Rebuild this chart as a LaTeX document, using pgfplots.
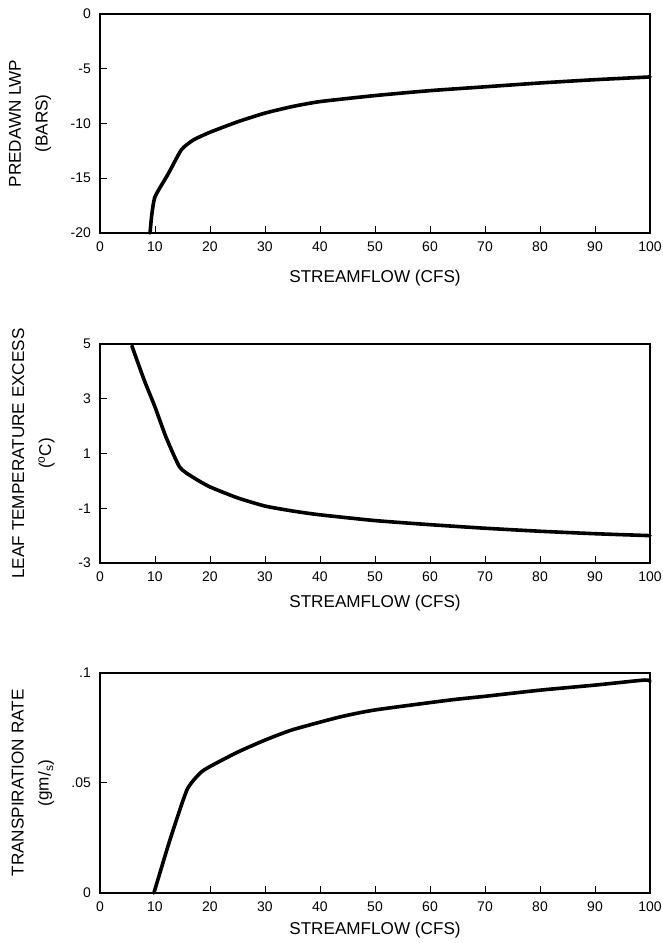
\documentclass[border=0pt]{standalone}
\usepackage{fontspec}
\setmainfont{Liberation Sans}
\usepackage{pgfplots}
\pgfplotsset{compat=1.18}
\begin{document}
\begin{tikzpicture}
\useasboundingbox (0bp,0bp) rectangle (663bp,943bp);
\pgfplotsset{
  myax/.style={
    scale only axis, width=550bp, anchor=south west,
    xmin=0, xmax=100, xtick={0,10,...,100},
    xticklabels={0,10,20,30,40,50,60,70,80,90,100},
    tick align=inside, tick pos=left, major tick length=7bp,
    axis line style={line width=1.2bp},
    every tick/.style={black, line width=1bp},
    clip=false,
    ticklabel style={font=\fontsize{14}{16}\selectfont},
    xticklabel style={anchor=north, inner sep=0pt, yshift=-9bp},
    yticklabel style={anchor=east, inner sep=0pt, xshift=-9bp},
    label style={font=\fontsize{17.2}{27}\selectfont},
    xlabel={STREAMFLOW (CFS)},
    ylabel style={align=center, anchor=center, rotate=0},
  },
  curve/.style={black, line width=3.6bp, line join=round, line cap=round, smooth, tension=0.35}
}
% Panel 1
\begin{axis}[myax, at={(100bp,710bp)}, height=219bp,
  ymin=-20, ymax=0, ytick={-20,-15,-10,-5,0},
  yticklabels={-20,-15,-10,-5,0},
  xlabel style={at={(axis description cs:0.5,-0.205)}, anchor=center},
  ylabel style={at={(axis description cs:-0.127,0.5)}},
  ylabel={PREDAWN LWP\\(BARS)}]
\addplot[curve] coordinates {
(9.1,-20) (9.4,-18.4) (10,-16.7) (12.4,-14.6) (14.8,-12.4) (17,-11.5) (20,-10.8)
(25,-9.85) (30,-9.05) (35,-8.45) (40,-8.0) (50,-7.45) (60,-7.0) (70,-6.65)
(80,-6.3) (90,-6.0) (100,-5.75)};
\end{axis}
% Panel 2
\begin{axis}[myax, at={(100bp,380bp)}, height=219bp,
  ymin=-3, ymax=5, ytick={-3,-1,1,3,5},
  yticklabels={-3,-1,1,3,5},
  xlabel style={at={(axis description cs:0.5,-0.185)}, anchor=center},
  ylabel style={at={(axis description cs:-0.121,0.5)}},
  ylabel={LEAF TEMPERATURE EXCESS\\(\textsuperscript{o}C)}]
\addplot[curve] coordinates {
(5.8,4.93) (8,3.7) (10,2.7) (12,1.6) (14.5,0.5) (17,0.12) (20,-0.22)
(25,-0.62) (30,-0.92) (35,-1.1) (40,-1.24) (50,-1.45) (60,-1.6) (70,-1.73)
(80,-1.84) (90,-1.93) (100,-2.0)};
\end{axis}
% Panel 3
\begin{axis}[myax, at={(100bp,50bp)}, height=220bp,
  ymin=0, ymax=0.1, ytick={0,0.05,0.1},
  yticklabels={0,.05,.1},
  xlabel style={at={(axis description cs:0.5,-0.17)}, anchor=center},
  ylabel style={at={(axis description cs:-0.122,0.5)}},
  ylabel={TRANSPIRATION RATE\\(\raisebox{2bp}{gm}/\textsubscript{s})}]
\addplot[curve] coordinates {
(9.8,0.0) (12.7,0.024) (15.8,0.0468) (18.2,0.0545) (20,0.0575) (25,0.064)
(30,0.0695) (35,0.0742) (43.6,0.0800) (50,0.0832) (63.6,0.0877) (70,0.0894)
(80,0.0922) (90,0.0945) (99,0.0968) (100,0.0962)};
\end{axis}
\end{tikzpicture}
\end{document}
